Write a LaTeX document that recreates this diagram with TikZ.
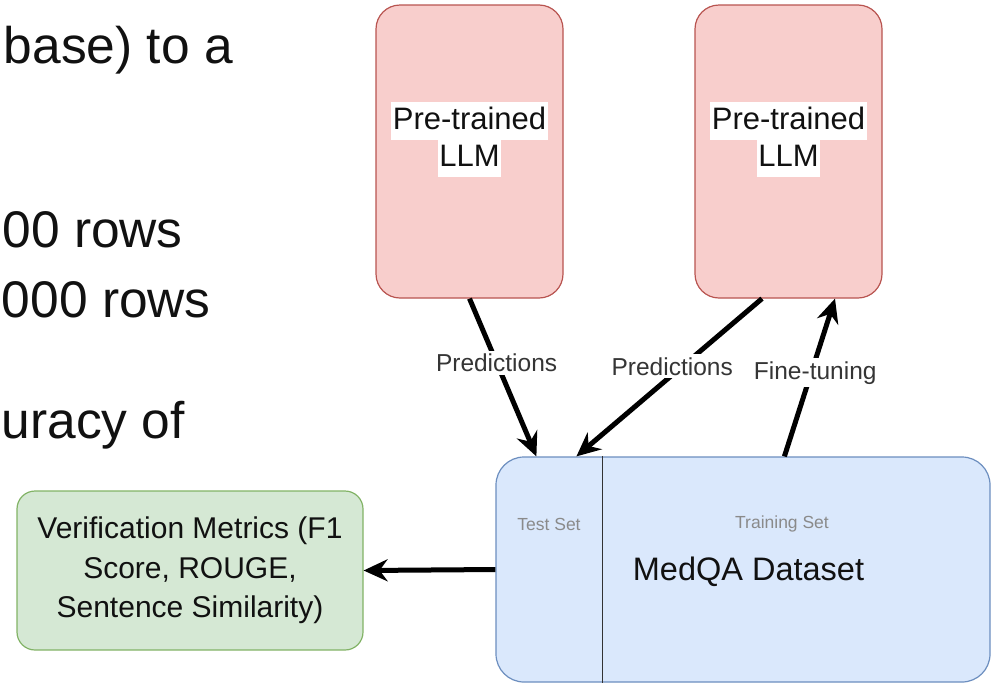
\documentclass[tikz,border=0pt]{standalone}
\usepackage{fontspec}
\setmainfont{Liberation Sans}
\usetikzlibrary{arrows.meta}
\definecolor{pinkfill}{HTML}{F8CECC}
\definecolor{pinkdraw}{HTML}{B85450}
\definecolor{bluefill}{HTML}{DAE8FC}
\definecolor{bluedraw}{HTML}{6C8EBF}
\definecolor{greenfill}{HTML}{D5E8D4}
\definecolor{greendraw}{HTML}{82B366}
\definecolor{subtext}{HTML}{8A8A8A}
\definecolor{inkblack}{HTML}{111111}
\tikzset{
  slidetext/.style={anchor=base east, inner sep=0pt, text=inkblack, font=\fontsize{51.5}{60}\selectfont},
  llmbox/.style={draw=pinkdraw, fill=pinkfill, line width=1.2pt, rounded corners=24pt, minimum width=187pt, minimum height=293pt, inner sep=0pt},
  llmtext/.style={fill=white, inner xsep=1.5pt, inner ysep=0pt, minimum height=37.5pt, text height=22.5pt, text depth=6pt, font=\fontsize{31}{37}\selectfont, text=inkblack},
  databox/.style={draw=bluedraw, fill=bluefill, line width=1.2pt, rounded corners=28pt, minimum width=494pt, minimum height=225pt, inner sep=0pt},
  metricbox/.style={draw=greendraw, fill=greenfill, line width=1.2pt, rounded corners=18pt, minimum width=346pt, minimum height=159pt, inner sep=0pt, align=center, font=\fontsize{30}{39.5}\selectfont, text=inkblack},
  sublabel/.style={text=subtext, font=\fontsize{17.5}{20}\selectfont, inner sep=0pt},
  arr/.style={line width=5pt, draw=black, -{Stealth[length=24pt, width=22pt, inset=8pt]}},
  edgelabel/.style={fill=white, inner xsep=2pt, inner ysep=3pt, font=\fontsize{24.5}{28}\selectfont, text=inkblack!85}
}
\begin{document}
\begin{tikzpicture}[x=1pt, y=-1pt]
\useasboundingbox (0,0) rectangle (992,683);
% slide text on the left
\node[slidetext] (s1) at (233,63) {base) to a};
\node[slidetext] (s2) at (183,247) {00 rows};
\node[slidetext] (s3) at (211,317) {000 rows};
\node[slidetext] (s4) at (185,438) {uracy of};
% LLM boxes
\node[llmbox] (p1) at (469.5,151.5) {};
\node[llmtext] (p1a) at (469.5,121) {Pre-trained};
\node[llmtext] (p1b) at (469.5,158.5) {LLM};
\node[llmbox] (p2) at (788.5,151.5) {};
\node[llmtext] (p2a) at (788.5,121) {Pre-trained};
\node[llmtext] (p2b) at (788.5,158.5) {LLM};
% dataset box
\node[databox] (ds) at (743,569.5) {};
\draw[line width=1.2pt, draw=black!80] ([xshift=107pt]ds.north west) coordinate (dv1) -- ([xshift=107pt]ds.south west) coordinate (dv2);
\node[sublabel] (ts) at (549,524) {Test Set};
\node[sublabel] (tr) at (782,524) {Training Set};
\node[font=\fontsize{32.5}{38}\selectfont, text=inkblack, inner sep=0pt] (mq) at (748.5,572) {MedQA Dataset};
% metrics box
\node[metricbox] (vm) at (190,570.5) {Verification Metrics (F1\\Score, ROUGE,\\Sentence Similarity)};
% connectors
\draw[arr] (p1.south) -- node[edgelabel, pos=0.405] (l1) {Predictions} ([xshift=41pt]ds.north west);
\draw[arr] ([xshift=-26.5pt]p2.south) -- node[edgelabel, pos=0.43, xshift=-10pt] (l2) {Predictions} ([xshift=81pt]ds.north west);
\draw[arr] ([xshift=289pt]ds.north west) -- node[edgelabel, pos=0.53, xshift=4pt] (l3) {Fine-tuning} ([xshift=46.5pt]p2.south);
\draw[arr] (ds.west) -- (vm.east);
\end{tikzpicture}
\end{document}
